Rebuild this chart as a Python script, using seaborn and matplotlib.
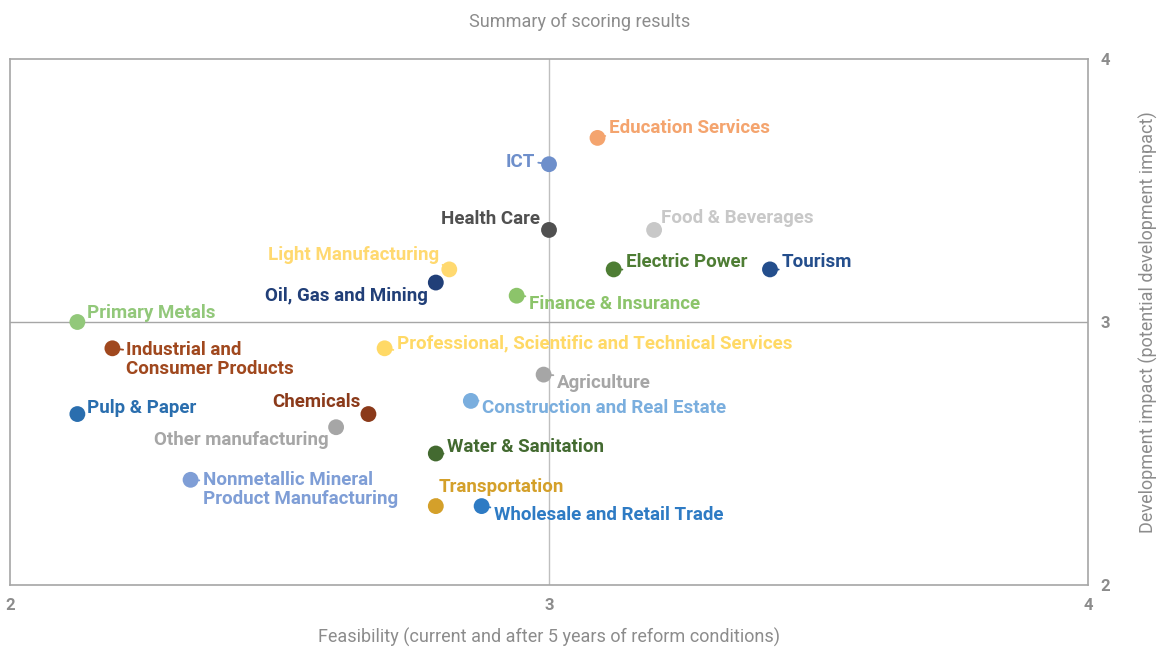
import matplotlib
matplotlib.use("Agg")
import matplotlib.pyplot as plt
import seaborn as sns
import pandas as pd

# Summary of scoring results
sectors = ["Education Services", "ICT", "Health Care", "Food & Beverages",
           "Light Manufacturing", "Electric Power", "Tourism", "Oil, Gas and Mining",
           "Finance & Insurance", "Primary Metals", "Industrial and\nConsumer Products",
           "Professional, Scientific and Technical Services", "Agriculture",
           "Pulp & Paper", "Chemicals", "Construction and Real Estate",
           "Other manufacturing", "Water & Sanitation",
           "Nonmetallic Mineral\nProduct Manufacturing", "Transportation",
           "Wholesale and Retail Trade"]
feasibility = [3.09, 3.0, 3.0, 3.195, 2.815, 3.12, 3.41, 2.79, 2.94, 2.125, 2.19,
               2.695, 2.99, 2.125, 2.665, 2.855, 2.605, 2.79, 2.335, 2.79, 2.875]
impact = [3.70, 3.60, 3.35, 3.35, 3.20, 3.20, 3.20, 3.15, 3.10, 3.00, 2.90,
          2.90, 2.80, 2.65, 2.65, 2.70, 2.60, 2.50, 2.40, 2.30, 2.30]
colors = ["#F4A46E", "#6E8FCB", "#505050", "#C8C8C8", "#FFD970", "#4E7D34",
          "#244E8C", "#213F78", "#8CC46A", "#92C87A", "#A0481E", "#FFD966",
          "#A6A6A6", "#2A6EAE", "#8B3A1A", "#7AAEDE", "#A6A6A6", "#436A30",
          "#7F9ED6", "#D4A02A", "#2E7BC4"]

# label placement (offset in pixels, alignment)
offsets = [(11, 10, "left"), (-14, 2, "right"), (-9, 11, "right"), (7, 12, "left"),
           (-10, 14, "right"), (12, 7, "left"), (12, 7, "left"), (-8, -13, "right"),
           (12, -8, "left"), (10, 9, "left"), (14, -11, "left"), (12, 5, "left"),
           (13, -8, "left"), (10, 6, "left"), (-8, 12, "right"), (11, -7, "left"),
           (-7, -13, "right"), (11, 7, "left"), (12, -10, "left"), (3, 19, "left"),
           (12, -9, "left")]

df = pd.DataFrame({"sector": sectors, "x": feasibility, "y": impact})

sns.set_style("white")
plt.rcParams["font.family"] = ["Roboto", "DejaVu Sans"]
grey = "#8C8C8C"

fig = plt.figure(figsize=(11.59, 6.48), dpi=100)
ax = fig.add_axes([10 / 1159, 1 - 585 / 648, 1078 / 1159, 526 / 648])

ax.axvline(3, color="#BFBFBF", lw=1, zorder=0)
ax.axhline(3, color="#A6A6A6", lw=1, zorder=0)

sns.scatterplot(data=df, x="x", y="y", hue="sector", palette=dict(zip(sectors, colors)),
                s=130, edgecolor="none", legend=False, ax=ax, zorder=3)

for name, x, y, c, (dx, dy, ha) in zip(sectors, feasibility, impact, colors, offsets):
    relx = 0 if ha == "left" else 1
    rely = 0.5
    if dy > 4:
        rely = 0.1
    elif dy < -4:
        rely = 0.9
    if "\n" in name:
        rely = 0.75
    ax.annotate(name, (x, y), xytext=(dx, dy), textcoords="offset pixels",
                ha=ha, va="center", color=c, fontsize=13.5, fontweight="bold",
                linespacing=1.05,
                arrowprops=dict(arrowstyle="-", color=c, lw=1.3, shrinkA=0, shrinkB=4,
                                relpos=(relx, rely)),
                zorder=4)

ax.set_xlim(2, 4)
ax.set_ylim(2, 4)
ax.set_xticks([2, 3, 4])
ax.set_yticks([2, 3, 4])
ax.yaxis.tick_right()
ax.yaxis.set_label_position("right")
ax.tick_params(length=0, labelsize=12, labelcolor=grey, pad=9)
for lab in ax.get_xticklabels() + ax.get_yticklabels():
    lab.set_fontweight("bold")
for sp in ax.spines.values():
    sp.set_color("#A6A6A6")
    sp.set_linewidth(1.2)

ax.set_xlabel("Feasibility (current and after 5 years of reform conditions)",
              fontsize=13, color=grey, labelpad=11)
ax.set_ylabel("Development impact (potential development impact)",
              fontsize=13, color=grey, labelpad=21)
fig.suptitle("Summary of scoring results", y=1 - 22 / 648, va="center",
             fontsize=13, color=grey)

fig.savefig("out.png", dpi=100)
